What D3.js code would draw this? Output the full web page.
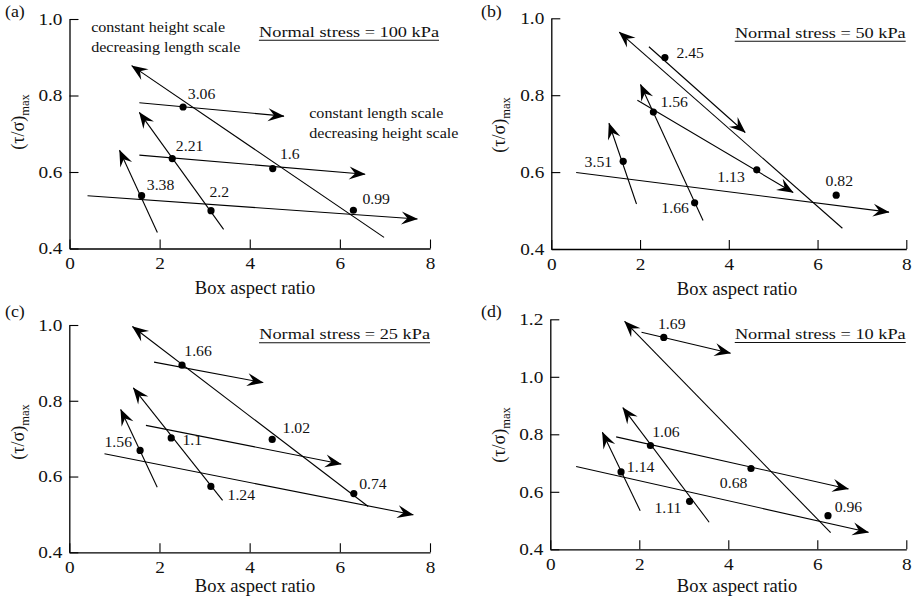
<!DOCTYPE html>
<html>
<head>
<meta charset="utf-8">
<script src="https://cdn.jsdelivr.net/npm/d3@7"></script>
<style>
  body { margin: 0; background: #fff; }
  svg { font-family: "Liberation Serif", "Times New Roman", serif; }
</style>
</head>
<body>
<script>
// ---------------- DATA ----------------
const panelIds = ["(a)", "(b)", "(c)", "(d)"];
const stressLabels = ["Normal stress = 100 kPa", "Normal stress = 50 kPa", "Normal stress = 25 kPa", "Normal stress = 10 kPa"];
const xTicks = [0, 2, 4, 6, 8];
const xDomain = [0, 8];
const yTicks = [[0.4, 0.6, 0.8, 1.0], [0.4, 0.6, 0.8, 1.0], [0.4, 0.6, 0.8, 1.0], [0.4, 0.6, 0.8, 1.0, 1.2]];
const yDomains = [[0.4, 1.0], [0.4, 1.0], [0.4, 1.0], [0.4, 1.2]];
const xTitle = "Box aspect ratio";

// data points [aspect ratio, (tau/sigma)max]
const pointsA = [[2.52, 0.770], [2.28, 0.635], [4.51, 0.609], [1.60, 0.538], [3.14, 0.499], [6.30, 0.500]];
const pointsB = [[2.56, 0.898], [2.30, 0.756], [1.62, 0.628], [4.63, 0.606], [3.23, 0.520], [6.42, 0.540]];
const pointsC = [[2.50, 0.894], [4.50, 0.698], [2.26, 0.702], [1.57, 0.669], [3.14, 0.574], [6.31, 0.555]];
const pointsD = [[2.55, 1.137], [2.25, 0.761], [4.51, 0.681], [1.59, 0.669], [3.13, 0.567], [6.24, 0.517]];

// point annotations: [text, x, y] (left / baseline, data units)
const labelsA = [["3.06", 2.625, 0.791], ["2.21", 2.36, 0.656], ["1.6", 4.67, 0.633], ["3.38", 1.715, 0.554], ["2.2", 3.105, 0.535], ["0.99", 6.50, 0.516]];
const labelsB = [["2.45", 2.82, 0.896], ["1.56", 2.46, 0.770], ["3.51", 0.75, 0.612], ["1.13", 3.74, 0.575], ["1.66", 2.48, 0.4945], ["0.82", 6.18, 0.564]];
const labelsC = [["1.66", 2.55, 0.919], ["1.02", 4.73, 0.716], ["1.1", 2.51, 0.682], ["1.56", 0.78, 0.679], ["1.24", 3.51, 0.538], ["0.74", 6.43, 0.566]];
const labelsD = [["1.69", 2.42, 1.165], ["1.06", 2.29, 0.792], ["0.68", 3.81, 0.612], ["1.14", 1.72, 0.670], ["1.11", 2.34, 0.525], ["0.96", 6.39, 0.531]];

// trend arrows: [tailX, tailY, tipX, tipY]
const arrowsA = [[6.98, 0.429, 1.38, 0.878], [1.55, 0.781, 4.76, 0.746], [1.55, 0.644, 6.56, 0.594], [0.40, 0.538, 7.72, 0.477], [3.42, 0.450, 1.55, 0.756], [1.95, 0.442, 1.11, 0.657]];
const arrowsB = [[6.56, 0.454, 1.53, 0.964], [2.20, 0.926, 4.37, 0.703], [1.94, 0.787, 5.45, 0.547], [0.56, 0.599, 7.61, 0.496], [3.42, 0.474, 2.01, 0.828], [1.92, 0.517, 1.30, 0.727]];
const arrowsC = [[6.63, 0.521, 1.40, 0.996], [1.88, 0.902, 4.30, 0.848], [1.70, 0.735, 6.03, 0.633], [0.78, 0.660, 7.63, 0.499], [3.40, 0.537, 1.42, 0.834], [1.95, 0.572, 1.14, 0.777]];
const arrowsD = [[6.30, 0.458, 1.67, 1.193], [2.05, 1.155, 4.05, 1.082], [1.48, 0.791, 6.70, 0.610], [0.58, 0.688, 7.15, 0.459], [3.57, 0.494, 1.63, 0.893], [2.02, 0.534, 1.17, 0.807]];

// regime notes in panel (a): [text, x, y]
const notesA = [["constant height scale", 0.48, 0.967], ["decreasing length scale", 0.48, 0.915],
                ["constant length scale", 5.32, 0.740], ["decreasing height scale", 5.32, 0.688]];

const allPoints = [pointsA, pointsB, pointsC, pointsD];
const allLabels = [labelsA, labelsB, labelsC, labelsD];
const allArrows = [arrowsA, arrowsB, arrowsC, arrowsD];
const allNotes = [notesA, [], [], []];

// ---------------- LAYOUT ----------------
const layout = [
  { x0: 69.5, x1: 430, yt: 19, yb: 248.5, xtX: 255, xtY: 294, ytX: 23.5, ytY: 122, let: [5, 16.5], head: [439, 36.7] },
  { x0: 551.3, x1: 906.3, yt: 18.3, yb: 249, xtX: 737, xtY: 295, ytX: 505, ytY: 125, let: [481, 17], head: [905.7, 37.7] },
  { x0: 69.3, x1: 430, yt: 325, yb: 552.3, xtX: 255, xtY: 591.7, ytX: 23.5, ytY: 432, let: [5, 316.7], head: [430, 339.3] },
  { x0: 550.3, x1: 906.3, yt: 319.3, yb: 549.3, xtX: 737, xtY: 591.7, ytX: 505, ytY: 435, let: [481, 316.7], head: [905.7, 339] }
];

const svg = d3.select("body").append("svg").attr("width", 918).attr("height", 601);

svg.append("defs").append("marker")
  .attr("id", "arr")
  .attr("markerUnits", "userSpaceOnUse")
  .attr("viewBox", "-18 -8 19 16")
  .attr("markerWidth", 19).attr("markerHeight", 16)
  .attr("refX", 0).attr("refY", 0)
  .attr("orient", "auto")
  .append("path")
  .attr("d", "M0.5,0 L-16,-6.5 L-10,0 L-16,6.5 Z")
  .attr("fill", "#000");

function stretch(sel, sx) {
  sel.each(function () {
    const t = d3.select(this);
    const x = +t.attr("x") || 0, y = +t.attr("y") || 0;
    t.attr("x", 0).attr("y", 0).attr("transform", `translate(${x},${y}) scale(${sx},1)`);
  });
}

layout.forEach((L, i) => {
  const x = d3.scaleLinear().domain(xDomain).range([L.x0, L.x1]);
  const y = d3.scaleLinear().domain(yDomains[i]).range([L.yb, L.yt]);
  const g = svg.append("g");

  // axes
  const gx = g.append("g").attr("transform", `translate(0,${L.yb})`)
    .call(d3.axisBottom(x).tickValues(xTicks).tickFormat(d3.format("d")).tickSizeInner(-9).tickSizeOuter(0).tickPadding(9));
  const gy = g.append("g").attr("transform", `translate(${L.x0},0)`)
    .call(d3.axisLeft(y).tickValues(yTicks[i]).tickFormat(d3.format(".1f")).tickSizeInner(-9).tickSizeOuter(0).tickPadding(7));
  [gx, gy].forEach(a => {
    a.selectAll("path.domain").attr("stroke", "#000").attr("stroke-width", 1.3);
    a.selectAll(".tick line").attr("stroke", "#000").attr("stroke-width", 1.1);
    a.selectAll(".tick text").attr("fill", "#111").style("font-family", "Liberation Serif").style("font-size", "16.5px");
    a.attr("font-family", null).attr("font-size", null);
  });
  stretch(gx.selectAll(".tick text"), 1.17);
  stretch(gy.selectAll(".tick text"), 1.17);

  // axis titles
  const xt = g.append("text").attr("x", L.xtX).attr("y", L.xtY).attr("text-anchor", "middle")
    .style("font-size", "18px").attr("fill", "#111").text(xTitle);
  stretch(xt, 1.03);

  const yt = g.append("text")
    .attr("transform", `translate(${L.ytX},${L.ytY}) rotate(-90)`)
    .attr("text-anchor", "middle").attr("fill", "#111").style("font-size", "18px");
  yt.append("tspan").text("(τ/σ)");
  yt.append("tspan").attr("dy", 5).style("font-size", "12.5px").text("max");

  // panel letter
  const lt = g.append("text").attr("x", L.let[0]).attr("y", L.let[1]).style("font-size", "17px").attr("fill", "#111").text(panelIds[i]);
  stretch(lt, 1.05);

  // headline with underline
  const hd = g.append("text").attr("x", L.head[0]).attr("y", L.head[1]).attr("text-anchor", "end")
    .style("font-size", "15px").attr("fill", "#111").text(stressLabels[i]);
  const hw = hd.node().getComputedTextLength() * 1.22;
  stretch(hd, 1.22);
  g.append("line").attr("x1", L.head[0] - hw).attr("x2", L.head[0])
    .attr("y1", L.head[1] + 3.5).attr("y2", L.head[1] + 3.5)
    .attr("stroke", "#111").attr("stroke-width", 1.1);

  // arrows
  g.selectAll("path.trend").data(allArrows[i]).join("path").attr("class", "trend")
    .attr("d", d => d3.line()([[x(d[0]), y(d[1])], [x(d[2]), y(d[3])]]))
    .attr("stroke", "#000").attr("stroke-width", 1.1).attr("fill", "none")
    .attr("marker-end", "url(#arr)");

  // points
  g.selectAll("circle").data(allPoints[i]).join("circle")
    .attr("cx", d => x(d[0])).attr("cy", d => y(d[1])).attr("r", 3.6).attr("fill", "#000");

  // point labels
  const pl = g.selectAll("text.pl").data(allLabels[i]).join("text").attr("class", "pl")
    .attr("x", d => x(d[1])).attr("y", d => y(d[2]))
    .style("font-size", "15px").attr("fill", "#111").text(d => d[0]);
  stretch(pl, 1.05);

  // notes
  const nt = g.selectAll("text.nt").data(allNotes[i]).join("text").attr("class", "nt")
    .attr("x", d => x(d[1])).attr("y", d => y(d[2]))
    .style("font-size", "14px").attr("fill", "#111").text(d => d[0]);
  stretch(nt, 1.15);
});
</script>
</body>
</html>
